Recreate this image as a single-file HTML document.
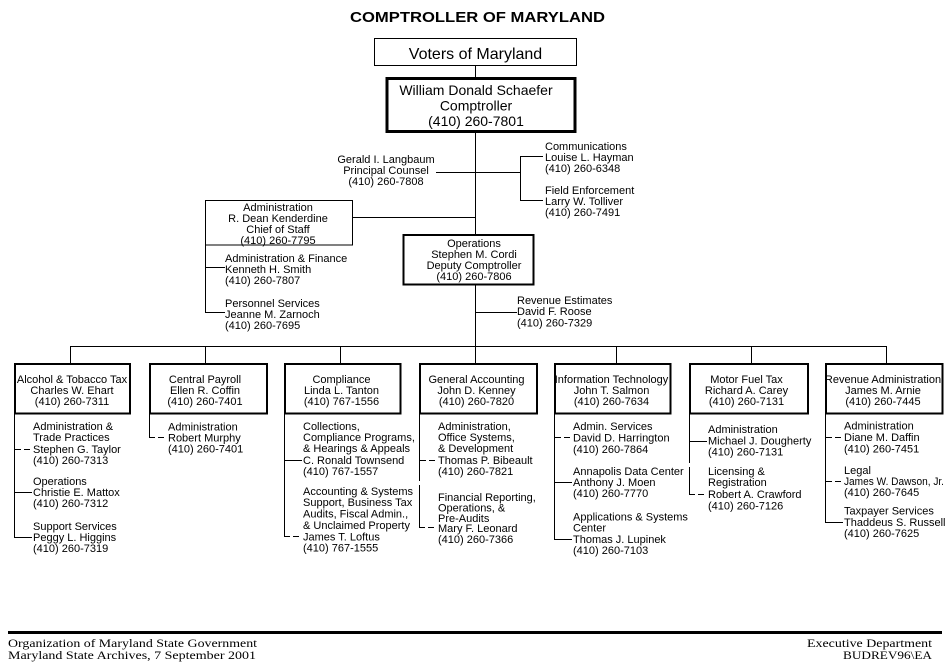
<!DOCTYPE html>
<html><head><meta charset="utf-8"><style>
html,body{margin:0;padding:0;background:#fff;}
svg{display:block;}
.t{font-family:"Liberation Sans",Arial,sans-serif;font-size:11px;fill:#000;}
.m{text-anchor:middle;}
.s{font-family:"Liberation Serif","Times New Roman",serif;font-size:11.5px;fill:#000;}
line{stroke:#000;stroke-width:1;}
.d{stroke-dasharray:6 3;}
</style></head><body>
<svg width="952" height="665" viewBox="0 0 952 665" xmlns="http://www.w3.org/2000/svg" shape-rendering="crispEdges">
<rect width="952" height="665" fill="#fff"/>
<!-- Title -->
<text x="350" y="22" textLength="255" lengthAdjust="spacingAndGlyphs" style="font-family:'Liberation Sans',Arial,sans-serif;font-weight:bold;font-size:14.5px">COMPTROLLER OF MARYLAND</text>

<!-- main spine -->
<line x1="475.5" y1="65" x2="475.5" y2="77"/>
<line x1="475.5" y1="133" x2="475.5" y2="347"/>

<!-- Voters -->
<rect x="374.5" y="38.5" width="202" height="27" fill="#fff" stroke="#000" stroke-width="1"/>
<text class="m" x="475.5" y="59" style="font-family:'Liberation Sans',Arial,sans-serif;font-size:16px">Voters of Maryland</text>

<!-- Comptroller -->
<rect x="387" y="78.5" width="188" height="53" fill="#fff" stroke="#000" stroke-width="3"/>
<text class="m" x="476" y="95" style="font-family:'Liberation Sans',Arial,sans-serif;font-size:14px">William Donald Schaefer</text>
<text class="m" x="476" y="110.5" style="font-family:'Liberation Sans',Arial,sans-serif;font-size:14px">Comptroller</text>
<text class="m" x="476" y="126" style="font-family:'Liberation Sans',Arial,sans-serif;font-size:14px">(410) 260-7801</text>

<!-- Counsel -->
<text class="t m" x="386" y="163">Gerald I. Langbaum</text>
<text class="t m" x="386" y="174">Principal Counsel</text>
<text class="t m" x="386" y="185">(410) 260-7808</text>
<line x1="436" y1="172.5" x2="521" y2="172.5"/>
<line x1="520.5" y1="156" x2="520.5" y2="201"/>
<line x1="520" y1="156.5" x2="543" y2="156.5"/>
<line x1="520" y1="200.5" x2="543" y2="200.5"/>
<text class="t" x="545" y="150">Communications</text>
<text class="t" x="545" y="161">Louise L. Hayman</text>
<text class="t" x="545" y="172">(410) 260-6348</text>
<text class="t" x="545" y="194">Field Enforcement</text>
<text class="t" x="545" y="205">Larry W. Tolliver</text>
<text class="t" x="545" y="216">(410) 260-7491</text>

<!-- Administration -->
<line x1="352" y1="217.5" x2="475" y2="217.5"/>
<rect x="205.5" y="200.5" width="147" height="44.5" fill="#fff" stroke="#000" stroke-width="1"/>
<text class="t m" x="278" y="211">Administration</text>
<text class="t m" x="278" y="222">R. Dean Kenderdine</text>
<text class="t m" x="278" y="233">Chief of Staff</text>
<text class="t m" x="278" y="244">(410) 260-7795</text>
<line x1="205.5" y1="245" x2="205.5" y2="312.5"/>
<line x1="205" y1="267.5" x2="225" y2="267.5"/>
<line x1="205" y1="312.5" x2="225" y2="312.5"/>
<text class="t" x="225" y="262">Administration &amp; Finance</text>
<text class="t" x="225" y="273">Kenneth H. Smith</text>
<text class="t" x="225" y="284">(410) 260-7807</text>
<text class="t" x="225" y="307">Personnel Services</text>
<text class="t" x="225" y="318">Jeanne M. Zarnoch</text>
<text class="t" x="225" y="329">(410) 260-7695</text>

<!-- Operations -->
<rect x="403.5" y="235" width="130" height="49.5" fill="#fff" stroke="#000" stroke-width="2"/>
<text class="t m" x="474" y="247">Operations</text>
<text class="t m" x="474" y="258">Stephen M. Cordi</text>
<text class="t m" x="474" y="269">Deputy Comptroller</text>
<text class="t m" x="474" y="280">(410) 260-7806</text>
<line x1="475" y1="312.5" x2="517" y2="312.5"/>
<text class="t" x="517" y="304">Revenue Estimates</text>
<text class="t" x="517" y="315">David F. Roose</text>
<text class="t" x="517" y="326.5">(410) 260-7329</text>

<!-- bus -->
<line x1="70" y1="346.5" x2="887" y2="346.5"/>
<line x1="70.5" y1="346" x2="70.5" y2="363"/>
<line x1="205.5" y1="346" x2="205.5" y2="363"/>
<line x1="340.5" y1="346" x2="340.5" y2="363"/>
<line x1="475.5" y1="346" x2="475.5" y2="363"/>
<line x1="616.5" y1="346" x2="616.5" y2="363"/>
<line x1="751.5" y1="346" x2="751.5" y2="363"/>
<line x1="886.5" y1="346" x2="886.5" y2="363"/>

<!-- Boxes -->
<g fill="#fff" stroke="#000" stroke-width="2">
<rect x="15" y="364" width="115" height="49.5"/>
<rect x="150" y="364" width="117" height="49.5"/>
<rect x="285" y="364" width="115.7" height="49.5"/>
<rect x="420" y="364" width="117" height="49.5"/>
<rect x="555" y="364" width="115.7" height="49.5"/>
<rect x="690" y="364" width="118" height="49.5"/>
<rect x="826" y="364" width="116.3" height="49.5"/>
</g>
<text class="t m" x="72" y="383">Alcohol &amp; Tobacco Tax</text>
<text class="t m" x="72" y="394">Charles W. Ehart</text>
<text class="t m" x="72" y="405">(410) 260-7311</text>
<text class="t m" x="205" y="383">Central Payroll</text>
<text class="t m" x="205" y="394">Ellen R. Coffin</text>
<text class="t m" x="205" y="405">(410) 260-7401</text>
<text class="t m" x="341.5" y="383">Compliance</text>
<text class="t m" x="341.5" y="394">Linda L. Tanton</text>
<text class="t m" x="341.5" y="405">(410) 767-1556</text>
<text class="t m" x="476.5" y="383">General Accounting</text>
<text class="t m" x="476.5" y="394">John D. Kenney</text>
<text class="t m" x="476.5" y="405">(410) 260-7820</text>
<text class="t m" x="611.5" y="383">Information Technology</text>
<text class="t m" x="611.5" y="394">John T. Salmon</text>
<text class="t m" x="611.5" y="405">(410) 260-7634</text>
<text class="t m" x="746.5" y="383">Motor Fuel Tax</text>
<text class="t m" x="746.5" y="394">Richard A. Carey</text>
<text class="t m" x="746.5" y="405">(410) 260-7131</text>
<text class="t m" x="883" y="383">Revenue Administration</text>
<text class="t m" x="883" y="394">James M. Arnie</text>
<text class="t m" x="883" y="405">(410) 260-7445</text>

<!-- Box1 subs -->
<line x1="14.5" y1="414" x2="14.5" y2="537.5"/>
<line class="d" x1="15" y1="449.5" x2="32" y2="449.5"/>
<line x1="15" y1="492.5" x2="32" y2="492.5"/>
<line x1="14" y1="537.5" x2="32" y2="537.5"/>
<text class="t" x="33" y="430">Administration &amp;</text>
<text class="t" x="33" y="441">Trade Practices</text>
<text class="t" x="33" y="453">Stephen G. Taylor</text>
<text class="t" x="33" y="464">(410) 260-7313</text>
<text class="t" x="33" y="485">Operations</text>
<text class="t" x="33" y="496">Christie E. Mattox</text>
<text class="t" x="33" y="507">(410) 260-7312</text>
<text class="t" x="33" y="530">Support Services</text>
<text class="t" x="33" y="541">Peggy L. Higgins</text>
<text class="t" x="33" y="552">(410) 260-7319</text>

<!-- Box2 subs -->
<line x1="149.5" y1="414" x2="149.5" y2="437.5"/>
<line class="d" x1="149" y1="437.5" x2="167" y2="437.5"/>
<text class="t" x="168" y="430.5">Administration</text>
<text class="t" x="168" y="441.5">Robert Murphy</text>
<text class="t" x="168" y="452.5">(410) 260-7401</text>

<!-- Box3 subs -->
<line x1="284.5" y1="414" x2="284.5" y2="536.5"/>
<line x1="285" y1="460.5" x2="302" y2="460.5"/>
<line class="d" x1="284" y1="536.5" x2="302" y2="536.5"/>
<text class="t" x="303" y="430">Collections,</text>
<text class="t" x="303" y="441">Compliance Programs,</text>
<text class="t" x="303" y="452">&amp; Hearings &amp; Appeals</text>
<text class="t" x="303" y="464">C. Ronald Townsend</text>
<text class="t" x="303" y="475">(410) 767-1557</text>
<text class="t" x="303" y="495">Accounting &amp; Systems</text>
<text class="t" x="303" y="506">Support, Business Tax</text>
<text class="t" x="303" y="517.5">Audits, Fiscal Admin.,</text>
<text class="t" x="303" y="529">&amp; Unclaimed Property</text>
<text class="t" x="303" y="540.5">James T. Loftus</text>
<text class="t" x="303" y="551.5">(410) 767-1555</text>

<!-- Box4 subs -->
<line x1="419.5" y1="414" x2="419.5" y2="481"/>
<line x1="419.5" y1="485" x2="419.5" y2="528"/>
<line class="d" x1="420" y1="460.5" x2="437" y2="460.5"/>
<line class="d" x1="419" y1="527.5" x2="437" y2="527.5"/>
<text class="t" x="438" y="430">Administration,</text>
<text class="t" x="438" y="441">Office Systems,</text>
<text class="t" x="438" y="452">&amp; Development</text>
<text class="t" x="438" y="464">Thomas P. Bibeault</text>
<text class="t" x="438" y="475">(410) 260-7821</text>
<text class="t" x="438" y="501">Financial Reporting,</text>
<text class="t" x="438" y="511.5">Operations, &amp;</text>
<text class="t" x="438" y="522">Pre-Audits</text>
<text class="t" x="438" y="532">Mary F. Leonard</text>
<text class="t" x="438" y="543">(410) 260-7366</text>

<!-- Box5 subs -->
<line x1="554.5" y1="414" x2="554.5" y2="539.5"/>
<line class="d" x1="555" y1="437.5" x2="572" y2="437.5"/>
<line x1="555" y1="482.5" x2="572" y2="482.5"/>
<line x1="554" y1="539.5" x2="572" y2="539.5"/>
<text class="t" x="573" y="430">Admin. Services</text>
<text class="t" x="573" y="441.5">David D. Harrington</text>
<text class="t" x="573" y="453">(410) 260-7864</text>
<text class="t" x="573" y="475">Annapolis Data Center</text>
<text class="t" x="573" y="486">Anthony J. Moen</text>
<text class="t" x="573" y="497">(410) 260-7770</text>
<text class="t" x="573" y="520.5">Applications &amp; Systems</text>
<text class="t" x="573" y="531.5">Center</text>
<text class="t" x="573" y="543">Thomas J. Lupinek</text>
<text class="t" x="573" y="554">(410) 260-7103</text>

<!-- Box6 subs -->
<line x1="689.5" y1="414" x2="689.5" y2="463"/>
<line x1="689.5" y1="467" x2="689.5" y2="494.5"/>
<line x1="690" y1="441.5" x2="707" y2="441.5"/>
<line class="d" x1="689" y1="494.5" x2="707" y2="494.5"/>
<text class="t" x="708" y="433">Administration</text>
<text class="t" x="708" y="444.5">Michael J. Dougherty</text>
<text class="t" x="708" y="455.5">(410) 260-7131</text>
<text class="t" x="708" y="475">Licensing &amp;</text>
<text class="t" x="708" y="486">Registration</text>
<text class="t" x="708" y="498">Robert A. Crawford</text>
<text class="t" x="708" y="509.5">(410) 260-7126</text>

<!-- Box7 subs -->
<line x1="825.5" y1="414" x2="825.5" y2="522.5"/>
<line class="d" x1="826" y1="437.5" x2="843" y2="437.5"/>
<line class="d" x1="826" y1="481.5" x2="843" y2="481.5"/>
<line x1="825" y1="522.5" x2="843" y2="522.5"/>
<text class="t" x="844" y="429.5">Administration</text>
<text class="t" x="844" y="441">Diane M. Daffin</text>
<text class="t" x="844" y="452.5">(410) 260-7451</text>
<text class="t" x="844" y="474">Legal</text>
<text class="t" x="844" y="485" textLength="100" lengthAdjust="spacingAndGlyphs">James W. Dawson, Jr.</text>
<text class="t" x="844" y="496">(410) 260-7645</text>
<text class="t" x="844" y="514.5">Taxpayer Services</text>
<text class="t" x="844" y="526">Thaddeus S. Russell</text>
<text class="t" x="844" y="537">(410) 260-7625</text>

<!-- Footer -->
<rect x="8" y="631" width="934" height="3" fill="#000"/>
<text class="s" x="8" y="647" textLength="249" lengthAdjust="spacingAndGlyphs">Organization of Maryland State Government</text>
<text class="s" x="8" y="659" textLength="248" lengthAdjust="spacingAndGlyphs">Maryland State Archives, 7 September 2001</text>
<text class="s" x="807" y="647" textLength="125" lengthAdjust="spacingAndGlyphs">Executive Department</text>
<text class="s" x="843" y="659" textLength="89" lengthAdjust="spacingAndGlyphs">BUDREV96\EA</text>
</svg>
</body></html>
